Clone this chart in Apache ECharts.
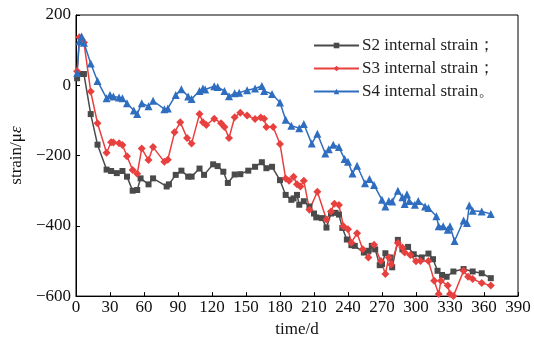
<!DOCTYPE html>
<html>
<head>
<meta charset="utf-8">
<script src="https://cdn.jsdelivr.net/npm/echarts@6/dist/echarts.min.js"></script>
<style>
  html, body { margin: 0; padding: 0; background: #fff; }
  #chart { width: 534px; height: 343px; }
</style>
</head>
<body>
<div id="chart"></div>
<script>
// [time (d), strain (με)]
const s2 = [
  [1, 20], [4, 32], [7, 32], [13, -82], [19, -169], [27, -240], [31, -244], [36, -250],
  [41, -244], [45, -260], [50, -300], [54, -298], [57, -265], [64, -282], [68, -265],
  [80, -288], [82, -282], [88, -255], [93, -243], [99, -260], [102, -260], [109, -237],
  [113, -255], [121, -225], [125, -230], [130, -246], [134, -278], [140, -254], [145, -253],
  [152, -243], [158, -232], [164, -219], [168, -236], [173, -232], [180, -270], [185, -312],
  [190, -326], [192, -322], [195, -312], [197, -340], [201, -330], [206, -345], [210, -365],
  [212, -376], [217, -378], [221, -405], [225, -365], [229, -363], [232, -368], [235, -406],
  [239, -439], [243, -455], [246, -457], [254, -476], [258, -471], [261, -457], [264, -467],
  [268, -512], [270, -509], [273, -478], [277, -490], [279, -518], [284, -440], [288, -467],
  [293, -460], [298, -481], [305, -490], [311, -479], [315, -495], [319, -528], [323, -540],
  [327, -545], [333, -530], [342, -523], [350, -530], [358, -535], [366, -549]
];
const s3 = [
  [1, 40], [3, 137], [5, 130], [7, 122], [13, -18], [19, -108], [27, -192], [31, -162],
  [33, -163], [38, -165], [41, -170], [45, -202], [50, -241], [54, -252], [58, -180],
  [64, -213], [68, -176], [78, -218], [81, -212], [87, -134], [92, -105], [98, -150],
  [102, -166], [109, -82], [112, -105], [115, -113], [122, -95], [128, -108], [131, -119],
  [135, -150], [140, -91], [145, -78], [151, -86], [158, -96], [163, -92], [166, -95],
  [168, -119], [174, -119], [180, -167], [185, -265], [188, -272], [192, -260], [195, -282],
  [198, -288], [201, -272], [206, -354], [213, -303], [221, -382], [225, -359], [228, -337],
  [232, -341], [236, -401], [240, -410], [243, -448], [248, -421], [253, -467], [258, -490],
  [263, -454], [269, -500], [273, -537], [276, -490], [278, -510], [284, -449], [288, -462],
  [290, -476], [295, -483], [300, -501], [304, -500], [311, -500], [316, -556], [320, -594],
  [322, -556], [328, -570], [330, -594], [333, -600], [342, -528], [346, -545], [350, -551],
  [358, -563], [366, -570]
];
const s4 = [
  [1, 35], [3, 125], [5, 139], [7, 121], [13, 62], [19, 12], [27, -37], [30, -28],
  [33, -32], [38, -35], [41, -37], [45, -51], [51, -72], [54, -82], [58, -51], [64, -60],
  [68, -44], [78, -68], [81, -66], [88, -28], [93, -11], [99, -32], [102, -39], [109, -16],
  [112, -9], [114, -12], [122, -3], [125, -5], [131, -16], [135, -31], [140, -23],
  [144, -21], [151, -14], [158, -9], [164, -2], [166, -16], [173, -25], [180, -49],
  [185, -98], [190, -115], [197, -122], [201, -110], [208, -166], [213, -138], [220, -194],
  [223, -182], [227, -169], [232, -176], [237, -210], [240, -218], [244, -251], [248, -229],
  [255, -279], [259, -267], [263, -284], [270, -326], [273, -345], [276, -329], [279, -331],
  [284, -300], [288, -319], [290, -338], [292, -310], [294, -329], [299, -340], [302, -329],
  [308, -345], [311, -349], [318, -373], [320, -401], [324, -401], [328, -411], [330, -401],
  [334, -443], [342, -385], [345, -392], [347, -342], [350, -357], [358, -359], [366, -366]
];
const seriesNames = ['S2 internal strain；', 'S3 internal strain；', 'S4 internal strain。'];

const font = 'Liberation Serif, Times New Roman, serif';
const chart = echarts.init(document.getElementById('chart'));

function mkSeries(name, data, color, symbol, size) {
  return {
    name: name,
    type: 'line',
    data: data,
    symbol: symbol,
    symbolSize: size,
    lineStyle: { color: color, width: 1.5 },
    itemStyle: { color: color },
    animation: false
  };
}

chart.setOption({
  textStyle: { fontFamily: font },
  grid: { left: 72, right: 16, top: 15, bottom: 43, show: true, borderColor: '#000', borderWidth: 1 },
  legend: {
    orient: 'vertical',
    left: 308,
    top: 32,
    itemWidth: 45,
    itemHeight: 7,
    itemGap: 6,
    textStyle: { fontFamily: font, fontSize: 17, color: '#222', padding: [0, 0, 0, -2] },
    data: seriesNames
  },
  xAxis: {
    type: 'value',
    min: 0,
    max: 390,
    interval: 30,
    name: 'time/d',
    nameLocation: 'middle',
    nameGap: 20,
    nameTextStyle: { fontFamily: font, fontSize: 17, color: '#111' },
    axisLine: { onZero: false, lineStyle: { color: '#000' } },
    axisTick: { inside: true, length: 4, lineStyle: { color: '#000' } },
    axisLabel: { fontFamily: font, fontSize: 17, color: '#111', margin: 3 },
    splitLine: { show: false }
  },
  yAxis: {
    type: 'value',
    min: -600,
    max: 200,
    interval: 200,
    name: '{a|strain/μ}{b|ε}',
    nameLocation: 'middle',
    nameGap: 46,
    nameTextStyle: {
      rich: {
        a: { fontFamily: font, fontSize: 17, color: '#111' },
        b: { fontFamily: font, fontSize: 17, color: '#111', fontStyle: 'italic' }
      }
    },
    axisLine: { show: true, lineStyle: { color: '#000' } },
    axisTick: { show: true, inside: true, length: 4, lineStyle: { color: '#000' } },
    axisLabel: {
      fontFamily: font, fontSize: 17, color: '#111', margin: 5,
      formatter: v => String(v).replace('-', '−')
    },
    splitLine: { show: false }
  },
  series: [
    mkSeries(seriesNames[0], s2, '#4a4a4a', 'rect', 6),
    mkSeries(seriesNames[1], s3, '#e8403f', 'diamond', 8),
    mkSeries(seriesNames[2], s4, '#2f6dbf', 'triangle', 8)
  ]
});
</script>
</body>
</html>
